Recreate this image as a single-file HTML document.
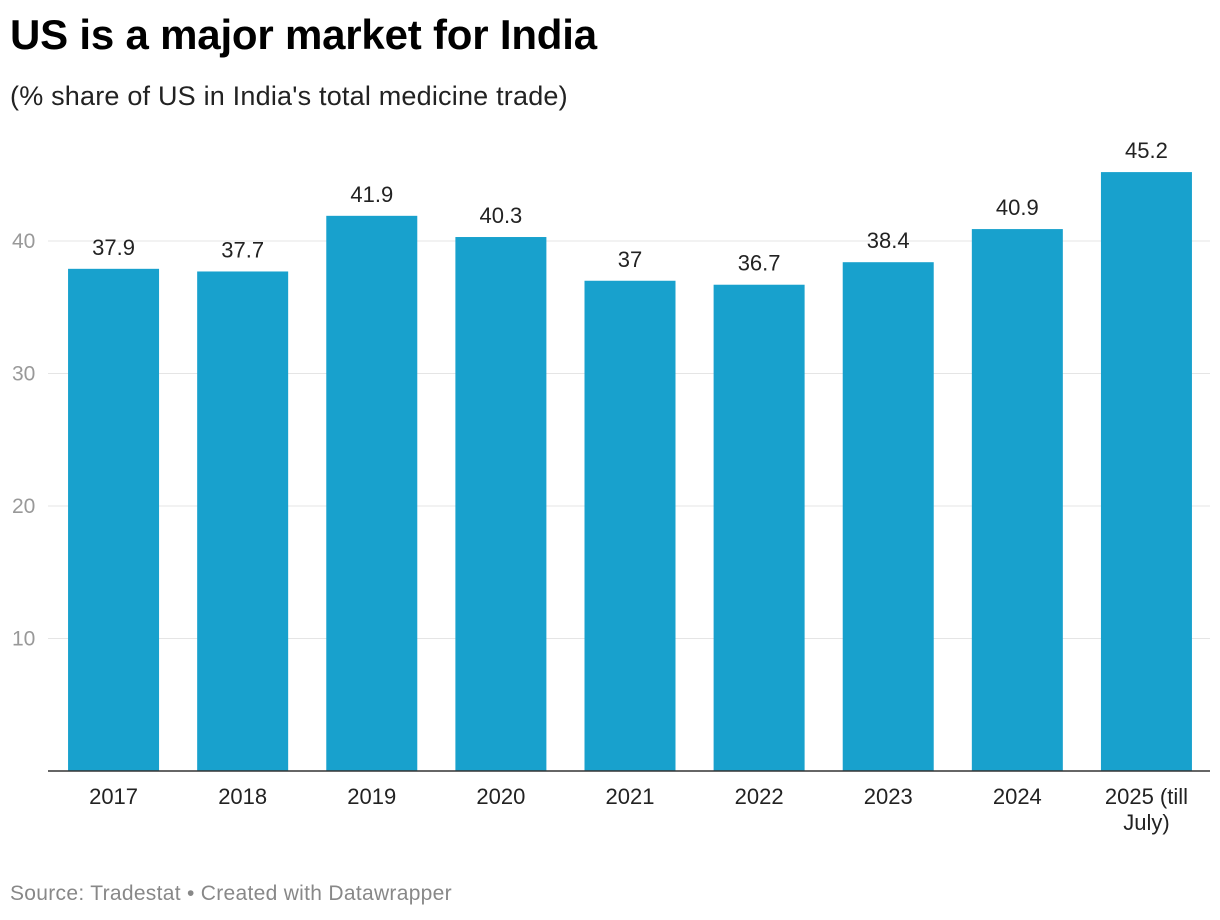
<!DOCTYPE html>
<html><head><meta charset="utf-8"><style>
body{margin:0;background:#fff;font-family:"Liberation Sans",sans-serif;}
#wrap{position:relative;width:1220px;height:920px;overflow:hidden;}
h1{position:absolute;left:10px;top:11px;margin:0;font-size:42px;font-weight:bold;color:#000;letter-spacing:-0.2px;}
.sub{position:absolute;left:10px;top:81px;font-size:27px;letter-spacing:0.2px;color:#222;}
.src{position:absolute;left:10px;top:882px;font-size:21px;letter-spacing:0.3px;color:#888;}
</style></head><body>
<div id="wrap">
<h1>US is a major market for India</h1>
<div class="sub">(% share of US in India's total medicine trade)</div>
<svg id="svg" width="1220" height="920" style="position:absolute;left:0;top:0"></svg>
<div class="src">Source: Tradestat • Created with Datawrapper</div>
</div>
<script>
const categories=["2017","2018","2019","2020","2021","2022","2023","2024","2025 (till|July)"];
const values=[37.9,37.7,41.9,40.3,37,36.7,38.4,40.9,45.2];
const valueLabels=["37.9","37.7","41.9","40.3","37","36.7","38.4","40.9","45.2"];
const yTicks=[10,20,30,40];
const svg=document.getElementById('svg');const NS='http://www.w3.org/2000/svg';
const x0=48,x1=1210,base=771,ppu=13.25;
const y=v=>base-v*ppu;
const band=(x1-x0)/categories.length,bw=91;
function mk(t,a){const e=document.createElementNS(NS,t);for(const k in a)e.setAttribute(k,a[k]);svg.appendChild(e);return e;}
yTicks.forEach(t=>{
 const l=mk('line',{x1:x0,x2:x1,y1:y(t),y2:y(t),stroke:'#e5e5e5','stroke-width':1});
 
 
 const tx=mk('text',{x:12,y:y(t)+7,'font-size':21,fill:'#999','font-family':'Liberation Sans'});tx.textContent=t;
 
 
});
categories.forEach((c,i)=>{
 const cx=x0+band*(i+0.5)+1;
 const r=mk('rect',{x:cx-bw/2,y:y(values[i]),width:bw,height:base-y(values[i]),fill:'#18a1cd'});
 
 
 const v=mk('text',{x:cx,y:y(values[i])-14,'text-anchor':'middle','font-size':22,fill:'#222','font-family':'Liberation Sans'});v.textContent=valueLabels[i];
 
 
 c.split('|').forEach((p,j)=>{
  const t=mk('text',{x:cx,y:804+j*26,'text-anchor':'middle','font-size':22,fill:'#222','font-family':'Liberation Sans'});t.textContent=p;
  
  
 });
});
const ax=mk('line',{x1:x0,x2:x1,y1:base,y2:base,stroke:'#333','stroke-width':1.5});


</script>
</body></html>
